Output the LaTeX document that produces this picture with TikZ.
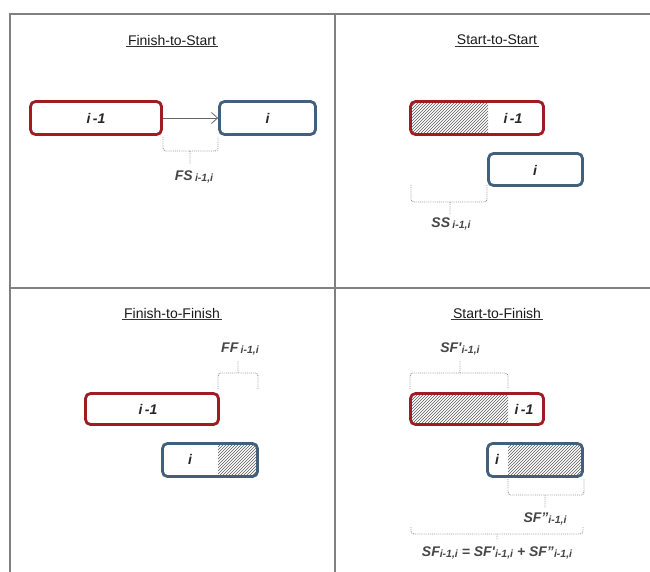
\documentclass[tikz,border=0pt]{standalone}
\usepackage{fontspec}
\setmainfont{Liberation Sans}
\usetikzlibrary{arrows.meta,positioning,patterns}

\definecolor{taskred}{RGB}{158,28,34}
\definecolor{taskblue}{RGB}{66,96,124}
\definecolor{gridgray}{RGB}{128,128,128}
\definecolor{bracegray}{RGB}{150,150,150}
\definecolor{labelgray}{RGB}{70,70,70}

% small index written after a lag name
\newcommand{\lagidx}[1]{\raisebox{-0.8pt}{\fontsize{10.5}{11}\selectfont #1}}

\begin{document}
\begin{tikzpicture}[x=1pt, y=-1pt, >=Stealth,
    redtask/.style={draw=taskred, line width=2.8pt, rounded corners=5pt,
      minimum width=131pt, minimum height=31pt, inner sep=0pt},
    bluetask/.style={draw=taskblue, line width=2.8pt, rounded corners=5pt,
      minimum width=95pt, minimum height=31pt, inner sep=0pt},
    tasklabel/.style={text=black!85, font=\bfseries\itshape\fontsize{14}{16}\selectfont},
    lagtext/.style={text=labelgray, font=\bfseries\itshape\fontsize{14}{16}\selectfont},
    title/.style={text=black!90, font=\fontsize{14}{16}\selectfont, inner xsep=2pt, inner ysep=1.5pt},
    titleline/.style={black!80, line width=0.9pt},
    gapbrace/.style={bracegray, densely dotted, line width=0.9pt, rounded corners=3pt},
    hatch/.style={pattern=north east lines, pattern color=black!65}]

  \useasboundingbox (0,0) rectangle (650,572);

  % grid
  \draw[gridgray, line width=1.2pt] (650,14) -- (10,14) -- (10,572);
  \draw[gridgray, line width=1.2pt] (335,14) -- (335,572);
  \draw[gridgray, line width=1.2pt] (10,288) -- (650,288);

  % Finish-to-Start
  \node[title] (t1) at (172,40) {Finish-to-Start};
  \draw[titleline] (t1.south west) -- (t1.south east);
  \node[redtask, minimum width=131pt, minimum height=33pt] (r1) at (96,118) {};
  \node[tasklabel] (l1) at (96,118) {i\,-1};
  \node[bluetask, minimum width=96pt, minimum height=33pt] (b1) at (267.5,118) {};
  \node[tasklabel] (m1) at (267.5,118) {i};
  \draw[black!60, line width=0.8pt, -{Straight Barb[length=6pt,width=11pt]}] (r1.east) -- (b1.west);
  \draw[gapbrace] (163,137) -- (163,151) -- (218,151) -- (218,137)
    (190,151) -- (190,164);
  \node[lagtext] (fs) at (194,177) {FS\,\lagidx{i-1,i}};

  % Start-to-Start
  \node[title] (t2) at (497,40) {Start-to-Start};
  \draw[titleline] (t2.south west) -- (t2.south east);
  \node[redtask, minimum width=133pt, minimum height=33pt] (r2) at (477,118) {};
  \begin{scope}
    \clip[rounded corners=3pt] ([xshift=2.8pt,yshift=2.8pt]r2.south west) rectangle ([xshift=-2.8pt,yshift=-2.8pt]r2.north east);
    \fill[hatch] (r2.north west) rectangle (488,136);
  \end{scope}
  \node[tasklabel] (l2) at (513,118) {i\,-1};
  \node[bluetask, minimum width=94pt, minimum height=32pt] (b2) at (535.5,169.5) {};
  \node[tasklabel] (m2) at (535,170) {i};
  \draw[gapbrace] (411,185) -- (411,202) -- (487,202) -- (487,185)
    (450,202) -- (450,214);
  \node[lagtext] (ss) at (451,224) {SS\,\lagidx{i-1,i}};

  % Finish-to-Finish
  \node[title] (t3) at (172,313) {Finish-to-Finish};
  \draw[titleline] (t3.south west) -- (t3.south east);
  \node[lagtext] (ff) at (240,349) {FF\,\lagidx{i-1,i}};
  \draw[gapbrace] (218,389) -- (218,373) -- (258,373) -- (258,389)
    (238,373) -- (238,361);
  \node[redtask, minimum width=133pt] (r3) at (152,409) {};
  \node[tasklabel] (l3) at (148,409) {i\,-1};
  \node[bluetask, minimum width=95pt, minimum height=33pt] (b3) at (210,460) {};
  \begin{scope}
    \clip[rounded corners=3pt] ([xshift=2.8pt,yshift=2.8pt]b3.south west) rectangle ([xshift=-2.8pt,yshift=-2.8pt]b3.north east);
    \fill[hatch] (218,442) rectangle (b3.south east);
  \end{scope}
  \node[tasklabel] (m3) at (190,459) {i};

  % Start-to-Finish
  \node[title] (t4) at (497,313) {Start-to-Finish};
  \draw[titleline] (t4.south west) -- (t4.south east);
  \node[lagtext] (sf1) at (460,349) {SF\textquotesingle\lagidx{i-1,i}};
  \draw[gapbrace] (410,389) -- (410,373) -- (508,373) -- (508,389)
    (460,373) -- (460,361);
  \node[redtask, minimum width=133pt] (r4) at (477,409) {};
  \begin{scope}
    \clip[rounded corners=3pt] ([xshift=2.8pt,yshift=2.8pt]r4.south west) rectangle ([xshift=-2.8pt,yshift=-2.8pt]r4.north east);
    \fill[hatch] (r4.north west) rectangle (508,426);
  \end{scope}
  \node[tasklabel] (l4) at (524,409) {i\,-1};
  \node[bluetask, minimum width=95pt, minimum height=33pt] (b4) at (535,460) {};
  \begin{scope}
    \clip[rounded corners=3pt] ([xshift=2.8pt,yshift=2.8pt]b4.south west) rectangle ([xshift=-2.8pt,yshift=-2.8pt]b4.north east);
    \fill[hatch] (508,442) rectangle (b4.south east);
  \end{scope}
  \node[tasklabel] (m4) at (497,459) {i};
  \draw[gapbrace] (508,479) -- (508,495) -- (584,495) -- (584,479)
    (545,495) -- (545,508);
  \node[lagtext] (sf2) at (545,519) {SF"\lagidx{i-1,i}};
  \draw[gapbrace] (411,527) -- (411,534) -- (583,534) -- (583,527)
    (497,534) -- (497,540);
  \node[lagtext] (sf) at (497,553) {SF\lagidx{i-1,i} = SF\textquotesingle\lagidx{i-1,i} + SF"\lagidx{i-1,i}};
\end{tikzpicture}
\end{document}
